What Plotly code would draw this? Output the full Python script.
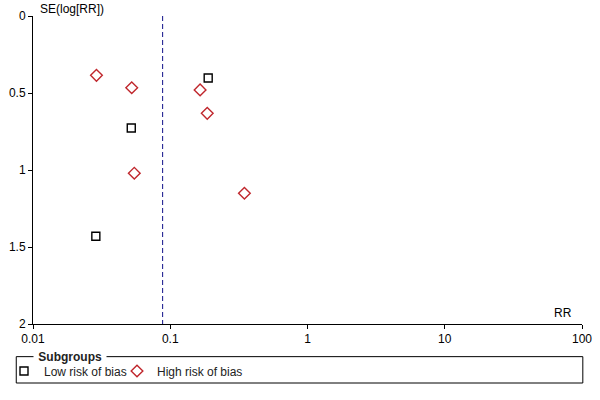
import plotly.graph_objects as go

# Data
low_rr = [0.189, 0.052, 0.0287]
low_se = [0.403, 0.727, 1.43]
high_rr = [0.029, 0.0524, 0.165, 0.186, 0.0547, 0.347]
high_se = [0.385, 0.466, 0.48, 0.632, 1.021, 1.151]
pooled_rr = 0.088
se_range = [0, 2]

x_tickvals = [0.01, 0.1, 1, 10, 100]
x_ticktext = ["0.01", "0.1", "1", "10", "100"]
y_tickvals = [0, 0.5, 1, 1.5, 2]
y_ticktext = ["0", "0.5", "1", "1.5", "2"]

FONT = "Liberation Sans, Arial, sans-serif"
RED = "#c0272d"

fig = go.Figure()
fig.add_trace(go.Scatter(
    x=low_rr, y=low_se, mode="markers", name="Low risk of bias", legend="legend",
    marker=dict(symbol="square-open", size=8, color="black",
                line=dict(color="black", width=1.4)),
))
fig.add_trace(go.Scatter(
    x=high_rr, y=high_se, mode="markers", name="High risk of bias", legend="legend2",
    marker=dict(symbol="diamond-open", size=9, color=RED,
                line=dict(color=RED, width=1.4)),
))

# pooled estimate line
fig.add_shape(type="line", xref="x", yref="y",
              x0=pooled_rr, x1=pooled_rr, y0=se_range[0], y1=se_range[1],
              line=dict(color="#10108a", width=1, dash="5px,3px"))

# legend box
fig.add_shape(type="rect", xref="paper", yref="paper",
              x0=-0.0305, x1=1.0015, y0=-0.1916, y1=-0.106,
              line=dict(color="black", width=1), fillcolor="rgba(0,0,0,0)")

fig.add_annotation(text="\u00a0<b>Subgroups</b>\u00a0", xref="paper", yref="paper",
                   x=0.0, y=-0.106, xanchor="left", yanchor="middle",
                   showarrow=False, bgcolor="white", borderpad=1,
                   font=dict(family=FONT, size=12, color="#222"))
fig.add_annotation(text="SE(log[RR])", xref="paper", yref="paper",
                   x=0.01, y=1.0227, xanchor="left", yanchor="middle",
                   showarrow=False, font=dict(family=FONT, size=12, color="black"))
fig.add_annotation(text="RR", xref="paper", yref="paper",
                   x=0.985, y=0.0357, xanchor="right", yanchor="middle",
                   showarrow=False, font=dict(family=FONT, size=12, color="black"))

leg_common = dict(orientation="h", xref="container", yref="container",
                  xanchor="left", y=29 / 400, yanchor="middle",
                  bgcolor="rgba(0,0,0,0)", borderwidth=0,
                  font=dict(family=FONT, size=12, color="#222"),
                  itemclick=False, itemdoubleclick=False)

fig.update_layout(
    width=600, height=400,
    margin=dict(l=32.5, r=17.5, t=16, b=76, autoexpand=False),
    paper_bgcolor="white", plot_bgcolor="white",
    font=dict(family=FONT, size=12, color="black"),
    showlegend=True,
    legend=dict(x=4 / 600, **leg_common),
    legend2=dict(x=117 / 600, **leg_common),
    xaxis=dict(type="log", range=[-2, 2], tickvals=x_tickvals, ticktext=x_ticktext,
               showgrid=False, zeroline=False, showline=True, linecolor="black",
               linewidth=1, ticks="outside", ticklen=4, tickcolor="black",
               tickfont=dict(family=FONT, size=12, color="black")),
    yaxis=dict(range=[2, 0], tickvals=y_tickvals, ticktext=y_ticktext,
               showgrid=False, zeroline=False, showline=True, linecolor="black",
               linewidth=1, ticks="outside", ticklen=4, tickcolor="black",
               tickfont=dict(family=FONT, size=12, color="black")),
)

fig.write_html("out.html", config={"displayModeBar": False},
               post_script="document.body.style.margin='0';")
